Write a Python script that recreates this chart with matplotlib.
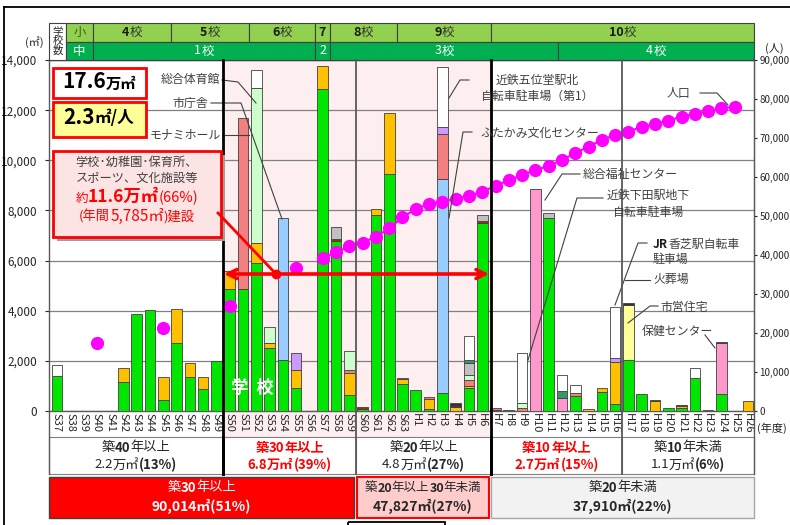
import numpy as np
import matplotlib
matplotlib.use("Agg")
import matplotlib.pyplot as plt
from matplotlib.patches import Rectangle, FancyArrowPatch
from matplotlib.lines import Line2D
from matplotlib.transforms import Affine2D

plt.rcParams['font.family'] = ['Noto Sans CJK JP', 'DejaVu Sans']

# ---------------------------------------------------------------- data
years = [f"S{n}" for n in range(37, 64)] + [f"H{n}" for n in range(1, 27)]

#            S37 .. S49 | S50 .. S59 | S60 .. H6 | H7 .. H16 | H17 .. H26
green = [1400, 0, 0, 0, 0, 1170, 3880, 4040, 450, 2700, 1340, 870, 2000,
         4870, 4870, 5900, 2500, 2040, 900, 0, 12830, 6770, 630,
         80, 7800, 9440, 1070, 840, 70, 710, 0, 900, 7500,
         30, 50, 0, 0, 7700, 0, 600, 0, 760, 260,
         2050, 690, 0, 130, 100, 1330, 0, 690, 0, 0]
orange = [0, 0, 0, 0, 0, 530, 0, 0, 890, 1380, 560, 480, 0,
          730, 0, 800, 200, 0, 740, 0, 940, 0, 900,
          0, 240, 2450, 200, 0, 400, 0, 170, 100, 0,
          0, 0, 0, 0, 0, 0, 0, 70, 140, 1710,
          0, 0, 380, 0, 90, 0, 40, 0, 0, 400]
blue = [0, 0, 0, 0, 0, 0, 0, 0, 0, 0, 0, 0, 0,
        0, 0, 0, 0, 5650, 0, 0, 0, 0, 0,
        0, 0, 0, 0, 0, 0, 8560, 0, 0, 0,
        0, 0, 0, 0, 0, 0, 0, 0, 0, 0,
        0, 0, 0, 0, 0, 0, 0, 0, 0, 0]
pink = [0, 0, 0, 0, 0, 0, 0, 0, 0, 0, 0, 0, 0,
        0, 0, 0, 0, 0, 0, 0, 0, 0, 0,
        0, 0, 0, 0, 0, 0, 0, 0, 0, 0,
        0, 0, 0, 8870, 0, 530, 0, 0, 0, 0,
        0, 0, 0, 0, 0, 0, 0, 2010, 0, 0]
salmon = [0, 0, 0, 0, 0, 0, 0, 0, 0, 0, 0, 0, 0,
          0, 6800, 0, 0, 0, 0, 0, 0, 0, 110,
          0, 0, 0, 0, 0, 90, 1770, 0, 230, 0,
          80, 0, 130, 0, 0, 0, 130, 0, 0, 0,
          0, 0, 0, 0, 0, 0, 0, 0, 0, 0]
palegreen = [0, 0, 0, 0, 0, 0, 0, 0, 0, 0, 0, 0, 0,
             0, 0, 6170, 670, 0, 0, 0, 0, 0, 760,
             0, 0, 0, 0, 0, 0, 0, 0, 200, 0,
             0, 0, 170, 0, 0, 0, 0, 0, 0, 0,
             0, 0, 0, 0, 0, 0, 0, 0, 0, 0]
paleyellow = [0, 0, 0, 0, 0, 0, 0, 0, 0, 0, 0, 0, 0,
              0, 0, 0, 0, 0, 0, 0, 0, 0, 0,
              0, 0, 0, 0, 0, 0, 0, 0, 0, 0,
              0, 0, 0, 0, 0, 0, 0, 0, 0, 0,
              2180, 0, 0, 0, 0, 0, 0, 0, 0, 0]
lavender = [0, 0, 0, 0, 0, 0, 0, 0, 0, 0, 0, 0, 0,
            0, 0, 0, 0, 0, 670, 0, 0, 0, 0,
            0, 0, 0, 0, 0, 0, 270, 0, 0, 0,
            0, 0, 0, 0, 0, 0, 0, 0, 0, 140,
            0, 0, 0, 0, 0, 0, 0, 0, 0, 0]
brown = [0, 0, 0, 0, 0, 0, 0, 0, 0, 0, 0, 0, 0,
         0, 0, 0, 0, 0, 0, 0, 0, 100, 0,
         60, 0, 0, 0, 0, 0, 0, 40, 0, 60,
         0, 0, 0, 0, 0, 0, 0, 0, 0, 0,
         0, 0, 40, 0, 30, 0, 0, 0, 0, 0]
gray = [0, 0, 0, 0, 0, 0, 0, 0, 0, 0, 0, 0, 0,
        0, 0, 0, 0, 0, 0, 0, 0, 460, 0,
        0, 0, 0, 60, 0, 0, 0, 0, 500, 240,
        0, 0, 0, 0, 200, 0, 0, 0, 0, 0,
        0, 0, 0, 0, 0, 0, 0, 0, 0, 0]
darkgreen = [0, 0, 0, 0, 0, 0, 0, 0, 0, 0, 0, 0, 0,
             0, 0, 0, 0, 0, 0, 0, 0, 0, 0,
             0, 0, 0, 0, 0, 0, 0, 0, 110, 0,
             0, 0, 0, 0, 0, 270, 0, 0, 0, 0,
             0, 0, 0, 0, 0, 0, 0, 0, 0, 0]
dark = [0, 0, 0, 0, 0, 0, 0, 0, 0, 0, 0, 0, 0,
        0, 0, 0, 0, 0, 0, 0, 0, 0, 0,
        0, 0, 0, 0, 0, 0, 0, 110, 0, 0,
        0, 0, 0, 0, 0, 0, 0, 0, 0, 0,
        70, 0, 0, 0, 0, 0, 0, 50, 0, 0]
white = [450, 0, 0, 0, 0, 0, 0, 0, 0, 0, 0, 0, 0,
         0, 0, 730, 0, 0, 0, 0, 0, 0, 0,
         0, 0, 0, 0, 0, 0, 2400, 0, 960, 0,
         0, 0, 2030, 0, 0, 630, 300, 0, 0, 2020,
         0, 0, 0, 0, 0, 400, 0, 0, 0, 0]

nan = np.nan
population = [nan, nan, nan, 17500, nan, nan, nan, nan, 21200, nan, nan, nan, nan,
              27000, nan, nan, nan, nan, 36600, nan, 39200, 40700, 42200,
              43200, 44700, 46800, 49700, 51800, 53100, 53700, 54400, 55200, 56200,
              57700, 59200, 60500, 61800, 62800, 64400, 66100, 67800, 69500, 70800,
              71600, 72900, 73600, 74400, 75500, 76200, 76900, 77600, 78000, nan]

y_ticks = [0, 2000, 4000, 6000, 8000, 10000, 12000, 14000]
pop_ticks = [0, 10000, 20000, 30000, 40000, 50000, 60000, 70000, 80000, 90000]

stack = [
    (green, '#00E600'), (orange, '#FFC000'), (blue, '#99CCFF'),
    (pink, '#FF99CC'), (salmon, '#F28080'), (palegreen, '#CCFFCC'),
    (paleyellow, '#FFFF99'), (lavender, '#CC99FF'), (brown, '#993300'),
    (gray, '#C0C0C0'), (darkgreen, '#339966'), (dark, '#333333'),
    (white, '#FFFFFF'),
]

# ---------------------------------------------------------------- figure
W, H = 790, 525
fig = plt.figure(figsize=(W / 100, H / 100), dpi=100)
fig.patch.set_facecolor('white')
# pixel layout transform (origin top-left) for the surrounding panels
PX = Affine2D().scale(1 / W, -1 / H).translate(0, 1) + fig.transFigure

PL, PR, PT, PB = 49, 754, 60, 411
ax = fig.add_axes([PL / W, 1 - PB / H, (PR - PL) / W, (PB - PT) / H])
ax2 = ax.twinx()

x = np.arange(len(years))
ax.set_xlim(-0.6, 52.45)
ax.set_ylim(0, 14000)
ax2.set_ylim(0, 90000)

# shaded band for S50 - H6
ax.add_patch(Rectangle((223, 60), 491 - 223, 437 - 60, transform=PX,
                       facecolor='#FDEFEF', edgecolor='none', zorder=0.2,
                       clip_on=False))

bottom = np.zeros(len(years))
for vals, col in stack:
    v = np.asarray(vals, float)
    m = v > 0
    ax.bar(x[m], v[m], 0.8, bottom=bottom[m], color=col, edgecolor='#404040',
           linewidth=0.6, zorder=3)
    bottom += v

ax.set_yticks(y_ticks)
ax.set_yticklabels([f"{t:,}" for t in y_ticks])
ax.yaxis.grid(True, color='#808080', lw=0.9)
ax.set_axisbelow(True)
ax.tick_params(axis='y', direction='out', length=3, pad=5.5, labelsize=8.5,
               colors='#262626')
ax.set_xticks(x)
ax.set_xticklabels(years, rotation=270, fontsize=8, color='#262626')
ax.tick_params(axis='x', length=0, pad=1.5)
for s in ['left', 'right', 'top', 'bottom']:
    ax.spines[s].set_color('#595959')
    ax.spines[s].set_linewidth(1.0)

pop = np.asarray(population, float)
annual_from = years.index('S57')
ax2.plot(x[annual_from:], pop[annual_from:], color='#FF00FF', lw=1.5, zorder=4)
ax2.plot(x, pop, 'o', color='#FF00FF', ms=8.5, mec='#FF00FF', zorder=5)
ax2.set_yticks(pop_ticks)
ax2.set_yticklabels([f"{t:,}" for t in pop_ticks])
ax2.tick_params(axis='y', direction='out', length=2.5, pad=1.5, labelsize=7,
                colors='#262626')
for s in ['left', 'top', 'bottom']:
    ax2.spines[s].set_visible(False)
ax2.spines['right'].set_color('#595959')

# ---------------------------------------------------------------- helpers
renderer = fig.canvas.get_renderer()


def txt(xp, yp, s, **kw):
    kw.setdefault('ha', 'center')
    kw.setdefault('va', 'center')
    return fig.text(xp, yp, s, transform=PX, **kw)


def rich(xc, yp, parts, va='center', ha='center'):
    arts = []
    for s, kw in parts:
        t = fig.text(xc, yp, s, transform=PX, ha='left', va=va, **kw)
        arts.append((t, t.get_window_extent(renderer).width))
    total = sum(w for _, w in arts)
    x0 = xc - total / 2 if ha == 'center' else xc
    for t, w in arts:
        t.set_position((x0, yp))
        x0 += w


def box(x0, y0, x1, y1, fc, ec, lw=0.8, z=1):
    fig.add_artist(Rectangle((x0, y0), x1 - x0, y1 - y0, transform=PX,
                             facecolor=fc, edgecolor=ec, lw=lw, zorder=z))


def line(pts, color='#404040', lw=0.8, z=2):
    xs, ys = zip(*pts)
    fig.add_artist(Line2D(xs, ys, transform=PX, color=color, lw=lw, zorder=z))


# ---------------------------------------------------------------- frame
line([(4, 7), (790, 7)], color='black', lw=1.3)
line([(4, 7), (4, 525)], color='black', lw=1.3)
box(348, 522, 445, 545, 'none', 'black', lw=1.3)

# ---------------------------------------------------------------- header
G1, G2 = '#92D050', '#00B050'
box(49, 23, 66, 60, 'white', '#404040')
txt(57.5, 41.5, "学\n校\n数", fontsize=7.5, linespacing=0.95, color='#262626')
box(66, 23, 93, 42, G1, '#404040')
txt(79.5, 32.5, "小", fontsize=9, color='#3A5F2A')
box(66, 42, 93, 60, G2, '#404040')
txt(79.5, 51, "中", fontsize=9, color='white')

row1_edges = [93, 171, 249, 315, 330, 397, 491, 754]
row1_text = ["4", "5", "6", "7", "8", "9", "10"]
for a, b, s in zip(row1_edges[:-1], row1_edges[1:], row1_text):
    box(a, 23, b, 42, G1, '#404040')
    parts = [(s, dict(fontsize=9, weight='bold', color='#1A1A1A'))]
    if b - a > 20:
        parts.append(("校", dict(fontsize=9, color='#333333')))
    rich((a + b) / 2, 32.5, parts)

row2_edges = [93, 315, 330, 558, 754]
row2_text = ["1", "2", "3", "4"]
for a, b, s in zip(row2_edges[:-1], row2_edges[1:], row2_text):
    box(a, 42, b, 60, G2, '#404040')
    parts = [(s, dict(fontsize=9, color='white'))]
    if b - a > 20:
        parts.append(("校", dict(fontsize=9, color='white')))
    rich((a + b) / 2, 51, parts)

# axis unit captions
txt(34, 42, "(㎡)", fontsize=8, color='#262626')
txt(774, 48, "(人)", fontsize=8, color='#262626')
txt(757, 428, "(年度)", fontsize=8, color='#262626', ha='left')

# ---------------------------------------------------------------- section lines
for xp, col, lw in [(223, 'black', 2.0), (356, '#595959', 1.3),
                    (491, 'black', 2.0), (622, '#595959', 1.3)]:
    line([(xp, 60), (xp, 474)], color=col, lw=lw, z=2.5)
line([(49, 411), (49, 474)], color='#595959', lw=1.0)
line([(754, 411), (754, 474)], color='#595959', lw=1.0)

# ---------------------------------------------------------------- age table
RED = '#FF0000'
cells = [
    (49, 223, "40", "2.2", "(13%)", False),
    (223, 356, "30", "6.8", "(39%)", True),
    (356, 491, "20", "4.8", "(27%)", False),
    (491, 622, "10", "2.7", "(15%)", True),
    (622, 754, "10", "1.1", "(6%)", False),
]
for i, (a, b, yrs, area, pct, hot) in enumerate(cells):
    box(a, 437, b, 474, 'white', '#808080', z=1)
    col = RED if hot else '#262626'
    tail = "年未満" if i == 4 else "年以上"
    w_norm = 'bold' if hot else 'normal'
    rich((a + b) / 2, 448, [("築", dict(fontsize=9.5, color=col, weight=w_norm)),
                            (yrs, dict(fontsize=9.5, color=col, weight='bold')),
                            (tail, dict(fontsize=9.5, color=col, weight=w_norm))])
    rich((a + b) / 2, 465, [(area, dict(fontsize=9.5, color=col, weight=w_norm)),
                            ("万㎡", dict(fontsize=9.5, color=col, weight=w_norm)),
                            (pct, dict(fontsize=9.5, color=col, weight='bold'))])
# redraw section lines over the cell borders
for xp, col, lw in [(223, 'black', 2.0), (491, 'black', 2.0)]:
    line([(xp, 437), (xp, 474)], color=col, lw=lw, z=2.5)

box(49, 477, 354, 518, RED, '#404040', lw=1.0)
rich(201.5, 488, [("築", dict(fontsize=9.5, color='white')),
                  ("30", dict(fontsize=9.5, color='white', weight='bold')),
                  ("年以上", dict(fontsize=9.5, color='white'))])
txt(201.5, 506.5, "90,014㎡(51%)", fontsize=10, color='white', weight='bold')

box(357, 477, 489, 518, '#FFCCCC', RED, lw=1.5)
rich(423, 488, [("築", dict(fontsize=9, color='#262626')),
                ("20", dict(fontsize=9, color='#262626', weight='bold')),
                ("年以上", dict(fontsize=9, color='#262626')),
                ("30", dict(fontsize=9, color='#262626', weight='bold')),
                ("年未満", dict(fontsize=9, color='#262626'))])
txt(423, 506.5, "47,827㎡(27%)", fontsize=10, color='#262626', weight='bold')

box(491, 477, 754, 518, '#F2F2F2', '#A6A6A6', lw=1.0)
rich(622.5, 488, [("築", dict(fontsize=9.5, color='#262626')),
                  ("20", dict(fontsize=9.5, color='#262626', weight='bold')),
                  ("年未満", dict(fontsize=9.5, color='#262626'))])
txt(622.5, 506.5, "37,910㎡(22%)", fontsize=10, color='#262626', weight='bold')

# ---------------------------------------------------------------- summary boxes
box(53, 68, 146, 98, 'white', RED, lw=2, z=3)
rich(99.5, 88.5, [("17.6", dict(fontsize=15, weight='bold', color='black')),
                  ("万㎡", dict(fontsize=11, weight='bold', color='black'))],
     va='baseline')
box(53, 102, 146, 137, '#FFFF99', RED, lw=2, z=3)
rich(98.5, 123.5, [("2.3", dict(fontsize=15, weight='bold', color='black')),
                   ("㎡/人", dict(fontsize=12, weight='bold', color='black'))],
     va='baseline')

box(57, 155, 225, 241, '#9E9E9E', 'none', lw=0, z=3)
box(53, 151, 221, 237, '#FDE4E4', RED, lw=2, z=3)
txt(137, 162, "学校･幼稚園･保育所、", fontsize=8.8, color='#404040')
txt(137, 178, "スポーツ、文化施設等", fontsize=8.8, color='#404040')
rich(137, 202, [("約", dict(fontsize=9, color=RED)),
                ("11.6万㎡", dict(fontsize=12.5, color=RED, weight='bold')),
                ("(66%)", dict(fontsize=10.5, color=RED))], va='baseline')
rich(137, 221, [("(年間", dict(fontsize=9.5, color=RED)),
                ("5,785㎡", dict(fontsize=11, color=RED)),
                (")建設", dict(fontsize=9.5, color=RED))], va='baseline')

# red pointer and span arrow
line([(218, 213), (276, 274)], color=RED, lw=2, z=4)
fig.add_artist(Line2D([276], [274], transform=PX, marker='o', ms=6,
                      color=RED, zorder=4))
fig.add_artist(FancyArrowPatch((224, 274), (489, 274), transform=PX,
                               arrowstyle='<->', mutation_scale=16, lw=2.6,
                               color=RED, shrinkA=0, shrinkB=0, zorder=4))

txt(252.5, 388, "学  校", fontsize=12.5, color='white', weight='bold')

# ---------------------------------------------------------------- callouts
TC = '#404040'
FS = 8.6
txt(220, 80, "総合体育館", fontsize=FS, color=TC, ha='right')
line([(222, 80), (238, 82), (256, 103)])
txt(208, 103, "市庁舎", fontsize=FS, color=TC, ha='right')
line([(211, 103), (241, 103), (282, 219)])
txt(221, 135, "モナミホール", fontsize=FS, color=TC, ha='right')
line([(225, 135), (249, 135)])

txt(537, 80, "近鉄五位堂駅北", fontsize=FS, color=TC)
txt(537, 96, "自転車駐車場（第1）", fontsize=FS, color=TC)
line([(469, 80), (460, 80), (449, 98)])
txt(540, 133, "ふたかみ文化センター", fontsize=FS, color=TC)
line([(472, 132), (463, 132), (449, 218)])
txt(583, 174, "総合福祉センター", fontsize=FS, color=TC, ha='left')
line([(580, 174), (562, 174), (545, 200)])
txt(648, 195, "近鉄下田駅地下", fontsize=FS, color=TC)
txt(648, 212, "自転車駐車場", fontsize=FS, color=TC)
line([(603, 198), (577, 198), (528, 360)])
rich(653, 244, [("JR", dict(fontsize=FS, color='#1A1A1A', weight='bold')),
                ("香芝駅自転車", dict(fontsize=FS, color=TC))], ha='left')
txt(653, 259, "駐車場", fontsize=FS, color=TC, ha='left')
line([(647, 243), (638, 243), (615, 305)])
txt(653, 279, "火葬場", fontsize=FS, color=TC, ha='left')
line([(650, 280), (625, 280)])
txt(660, 307, "市営住宅", fontsize=FS, color=TC, ha='left')
line([(658, 306), (650, 306), (628, 323)])
txt(642, 331, "保健センター", fontsize=FS, color=TC, ha='left')
line([(705, 335), (715, 348)])
txt(667, 93, "人口", fontsize=FS, color=TC, ha='left')
line([(700, 93), (717, 93), (728, 105)])

fig.savefig("out.png", dpi=100)
